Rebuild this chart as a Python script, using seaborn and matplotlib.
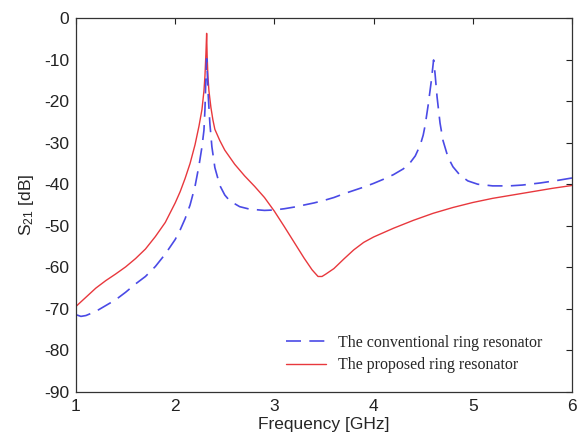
import numpy as np
import pandas as pd
import matplotlib
matplotlib.use("Agg")
import matplotlib.pyplot as plt
import seaborn as sns

# ==============================
# DATA
# ==============================
conv_freq = [1.00, 1.05, 1.10, 1.20, 1.30, 1.40, 1.50, 1.60, 1.70, 1.80,
             1.90, 2.00, 2.05, 2.10, 2.15, 2.20, 2.24, 2.27, 2.29, 2.30,
             2.31, 2.317, 2.325, 2.335, 2.35, 2.37, 2.40, 2.45, 2.50, 2.55,
             2.65, 2.75, 2.90, 3.00, 3.10, 3.20, 3.30, 3.40, 3.50, 3.60,
             3.70, 3.80, 3.90, 4.00, 4.10, 4.20, 4.30, 4.36, 4.42, 4.47,
             4.50, 4.52, 4.55, 4.58, 4.605, 4.62, 4.64, 4.67, 4.70, 4.75,
             4.80, 4.87, 4.95, 5.05, 5.20, 5.37, 5.50, 5.68, 5.85, 6.00]
conv_s21 = [-71.4, -71.8, -71.6, -70.6, -69.2, -67.8, -66.0, -64.0, -62.2, -59.8,
            -56.8, -53.3, -51.0, -48.3, -45.0, -40.5, -35.5, -31.0, -27.0, -22.0,
            -14.0, -9.8, -14.0, -19.5, -25.5, -31.0, -36.0, -40.3, -42.6, -44.0,
            -45.4, -46.0, -46.3, -46.2, -45.9, -45.5, -45.0, -44.5, -43.9, -43.2,
            -42.3, -41.5, -40.7, -39.8, -38.8, -37.7, -36.3, -35.1, -33.2, -30.6,
            -28.2, -25.8, -21.0, -15.5, -10.1, -13.5, -19.0, -25.3, -29.5, -33.5,
            -35.8, -37.8, -39.2, -40.0, -40.4, -40.4, -40.2, -39.7, -39.1, -38.5]

prop_freq = [1.00, 1.10, 1.20, 1.30, 1.40, 1.50, 1.60, 1.70, 1.80, 1.90,
             2.00, 2.05, 2.10, 2.15, 2.20, 2.24, 2.27, 2.29, 2.30, 2.31,
             2.317, 2.322, 2.33, 2.34, 2.36, 2.38, 2.40, 2.45, 2.50, 2.60,
             2.70, 2.80, 2.90, 3.00, 3.10, 3.20, 3.30, 3.38, 3.44, 3.48,
             3.52, 3.60, 3.70, 3.80, 3.90, 4.00, 4.20, 4.40, 4.60, 4.80,
             5.00, 5.20, 5.40, 5.60, 5.80, 6.00]
prop_s21 = [-69.4, -67.2, -65.0, -63.2, -61.6, -59.9, -57.9, -55.6, -52.6, -49.2,
            -44.5, -41.8, -38.6, -35.0, -30.5, -26.0, -22.0, -17.5, -14.0, -8.5,
            -3.7, -9.0, -14.0, -17.5, -21.5, -24.5, -26.8, -29.5, -31.8, -35.2,
            -38.0, -40.5, -43.2, -46.5, -50.2, -54.0, -57.8, -60.6, -62.2, -62.2,
            -61.6, -60.3, -58.0, -55.8, -54.0, -52.7, -50.6, -48.7, -47.0, -45.6,
            -44.4, -43.4, -42.6, -41.8, -41.0, -40.3]

labels = ["The conventional ring resonator", "The proposed ring resonator"]
x_ticks = [1, 2, 3, 4, 5, 6]
y_ticks = [0, -10, -20, -30, -40, -50, -60, -70, -80, -90]

df_conv = pd.DataFrame({"freq": conv_freq, "s21": conv_s21})
df_prop = pd.DataFrame({"freq": prop_freq, "s21": prop_s21})

# ==============================
# STYLE
# ==============================
sns.set_style("white")
plt.rcParams["font.family"] = ["Liberation Sans", "DejaVu Sans"]
plt.rcParams["mathtext.default"] = "regular"
plt.rcParams["axes.unicode_minus"] = False

fig = plt.figure(figsize=(5.77, 4.43), dpi=100)
ax = fig.add_axes([0.1317, 0.1151, 0.8596, 0.8443])

# ==============================
# CURVES
# ==============================
sns.lineplot(data=df_prop, x="freq", y="s21", ax=ax, color="#e8383d",
             linewidth=1.0, estimator=None, label=labels[1])
sns.lineplot(data=df_conv, x="freq", y="s21", ax=ax, color="#4a4ae6",
             linewidth=1.2, estimator=None, label=labels[0])
ax.lines[1].set_dashes((9, 5))

ax.set_xlim(1, 6)
ax.set_ylim(-90, 0)
ax.set_xticks(x_ticks)
ax.set_yticks(y_ticks)
ax.tick_params(direction="in", top=True, right=True, length=4, width=0.8,
               labelsize=12.5, colors="#222222")
ax.tick_params(axis="x", pad=5)
ax.tick_params(axis="y", pad=5)
for sp in ax.spines.values():
    sp.set_color("#333333")
    sp.set_linewidth(0.9)

ax.set_xlabel("Frequency [GHz]", fontsize=12.5, labelpad=2)
ax.set_ylabel("S$_{21}$ [dB]", fontsize=12.5, labelpad=6)

# legend: conventional first
handles, _ = ax.get_legend_handles_labels()
ax.legend([handles[1], handles[0]], labels, loc="upper left",
          bbox_to_anchor=(0.41, 0.17), frameon=False,
          prop={"family": "Liberation Serif", "size": 11.5},
          handlelength=2.5, handletextpad=0.8, labelspacing=0.4,
          borderaxespad=0)

fig.savefig("out.png", dpi=100, facecolor="white")
